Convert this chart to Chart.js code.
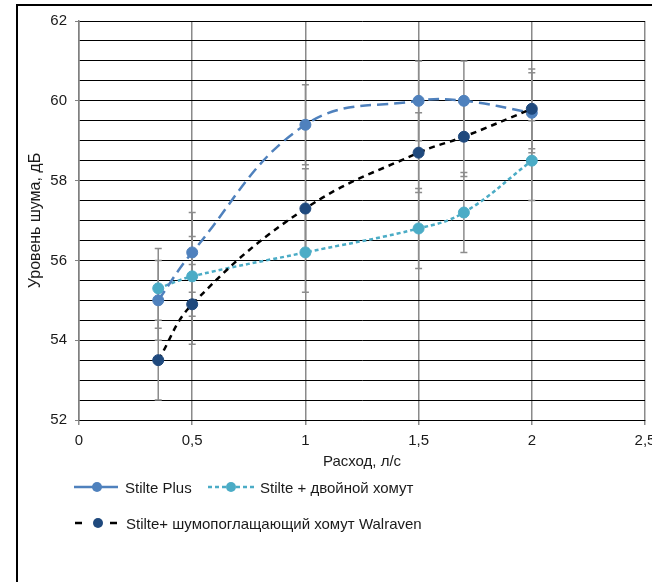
<!DOCTYPE html>
<html>
<head>
<meta charset="utf-8">
<script src="https://cdn.jsdelivr.net/npm/chart.js@4"></script>
<style>
  html, body { margin: 0; padding: 0; background: #fff; overflow: hidden; }
  #wrap { position: relative; width: 652px; height: 582px; overflow: hidden; }
  #frame { position: absolute; left: 16px; top: 4px; width: 700px; height: 700px;
           border-left: 2px solid #000; border-top: 2px solid #000; }
  #c { position: absolute; left: 0; top: 0; }
  .row { position: absolute; left: 0; height: 18px; display: flex; align-items: center;
         font: 15px "Liberation Sans", Arial, sans-serif; color: #1a1a1a; white-space: nowrap; }
  .row svg { display: block; }
</style>
</head>
<body>
<div id="wrap">
  <div id="frame"></div>
  <canvas id="c" width="670" height="582"></canvas>

  <div class="row" style="top:478px; left:74px;">
    <svg width="44" height="12"><line x1="0" y1="6" x2="44" y2="6" stroke="#4f81bd" stroke-width="2.5"/><circle cx="23" cy="6" r="5" fill="#4f81bd"/></svg>
    <span style="margin-left:7px;">Stilte Plus</span>
  </div>
  <div class="row" style="top:478px; left:208px;">
    <svg width="46" height="12"><line x1="0" y1="6" x2="46" y2="6" stroke="#4bacc6" stroke-width="2.5" stroke-dasharray="4,3"/><circle cx="23" cy="6" r="5" fill="#4bacc6"/></svg>
    <span style="margin-left:6px;">Stilte + двойной хомут</span>
  </div>
  <div class="row" style="top:514px; left:74px;">
    <svg width="44" height="12"><line x1="1" y1="6" x2="44" y2="6" stroke="#000" stroke-width="2.5" stroke-dasharray="7,28"/><circle cx="24" cy="6" r="5" fill="#1f497d"/></svg>
    <span style="margin-left:8px;">Stilte+ шумопоглащающий хомут Walraven</span>
  </div>
</div>

<script>
// Расход, л/с
const flow = [0.35, 0.5, 1, 1.5, 1.7, 2];
// Уровень шума, дБ
const stiltePlus = [55.0, 56.2, 59.4, 60.0, 60.0, 59.7];
const stilteDouble = [55.3, 55.6, 56.2, 56.8, 57.2, 58.5];
const stilteWalraven = [53.5, 54.9, 57.3, 58.7, 59.1, 59.8];
// погрешность ±
const errPlus = [1, 1, 1, 1, 1, 1];
const errDouble = [1, 1, 1, 1, 1, 1];
const errWalraven = [1, 1, 1, 1, 1, 1];

const xTicks = [0, 0.5, 1, 1.5, 2, 2.5];
const yLabels = [52, 54, 56, 58, 60, 62];

const font = { family: '"Liberation Sans", Arial, sans-serif', size: 15 };
const textColor = '#1a1a1a';

const pts = (ys) => flow.map((x, i) => ({ x: x, y: ys[i] }));

// error bars (Excel style, grey with caps)
const errorBars = {
  id: 'errorBars',
  beforeDatasetsDraw(chart) {
    const { ctx, scales: { x, y } } = chart;
    ctx.save();
    ctx.strokeStyle = '#8c8c8c';
    ctx.lineWidth = 1.5;
    chart.data.datasets.forEach(ds => {
      ds.data.forEach((p, i) => {
        const e = ds.errors[i];
        const px = x.getPixelForValue(p.x);
        const top = y.getPixelForValue(p.y + e);
        const bot = y.getPixelForValue(p.y - e);
        ctx.beginPath();
        ctx.moveTo(px, top); ctx.lineTo(px, bot);
        ctx.moveTo(px - 3.5, top); ctx.lineTo(px + 3.5, top);
        ctx.moveTo(px - 3.5, bot); ctx.lineTo(px + 3.5, bot);
        ctx.stroke();
      });
    });
    ctx.restore();
  }
};

new Chart(document.getElementById('c'), {
  type: 'line',
  data: {
    datasets: [
      {
        label: 'Stilte Plus',
        data: pts(stiltePlus), errors: errPlus,
        borderColor: '#4f81bd', backgroundColor: '#4f81bd',
        borderWidth: 2.5, borderDash: [11, 6],
        pointRadius: 5.5, pointBorderWidth: 1,
        pointBackgroundColor: '#4f81bd', pointBorderColor: '#4f81bd',
        tension: 0.4, order: 1
      },
      {
        label: 'Stilte + двойной хомут',
        data: pts(stilteDouble), errors: errDouble,
        borderColor: '#4bacc6', backgroundColor: '#4bacc6',
        borderWidth: 2.5, borderDash: [4, 3],
        pointRadius: 5.5, pointBorderWidth: 1,
        pointBackgroundColor: '#4bacc6', pointBorderColor: '#4bacc6',
        tension: 0.4, order: 2
      },
      {
        label: 'Stilte+ шумопоглащающий хомут Walraven',
        data: pts(stilteWalraven), errors: errWalraven,
        borderColor: '#000', backgroundColor: '#1f497d',
        borderWidth: 2.5, borderDash: [6, 5],
        pointRadius: 5.5, pointBorderWidth: 1,
        pointBackgroundColor: '#1f497d', pointBorderColor: '#1f497d',
        tension: 0.4, order: 0
      }
    ]
  },
  options: {
    responsive: false,
    animation: false,
    layout: { padding: { left: 20, top: 21, right: 25, bottom: 102 } },
    plugins: { legend: { display: false }, tooltip: { enabled: false } },
    scales: {
      x: {
        type: 'linear', min: 0, max: 2.5,
        afterBuildTicks: s => { s.ticks = xTicks.map(v => ({ value: v })); },
        ticks: { font: font, color: textColor, padding: 7, maxRotation: 0,
                 callback: v => String(v).replace('.', ',') },
        grid: { color: '#8a8a8a', lineWidth: 1.5, tickLength: 5, tickColor: '#8a8a8a' },
        border: { color: '#000', width: 1 },
        title: { display: true, text: 'Расход, л/с', font: font, color: textColor,
                 padding: { top: 0, bottom: 9 } },
        afterFit: s => { s.height = 60; }
      },
      y: {
        min: 52, max: 62,
        ticks: { stepSize: 0.5, autoSkip: false, font: font, color: textColor, padding: 8,
                 callback: v => yLabels.includes(v) ? v : '' },
        grid: { color: '#000', lineWidth: 1, tickLength: 4,
                tickColor: c => (c.tick && yLabels.includes(c.tick.value)) ? '#808080' : 'rgba(0,0,0,0)' },
        border: { color: '#808080', width: 1.5 },
        title: { display: true, text: 'Уровень шума, дБ', color: textColor,
                 font: { family: font.family, size: 16 },
                 padding: { top: 6, bottom: 0 } },
        afterFit: s => { s.width = 59; }
      }
    }
  },
  plugins: [errorBars]
});
</script>
</body>
</html>
